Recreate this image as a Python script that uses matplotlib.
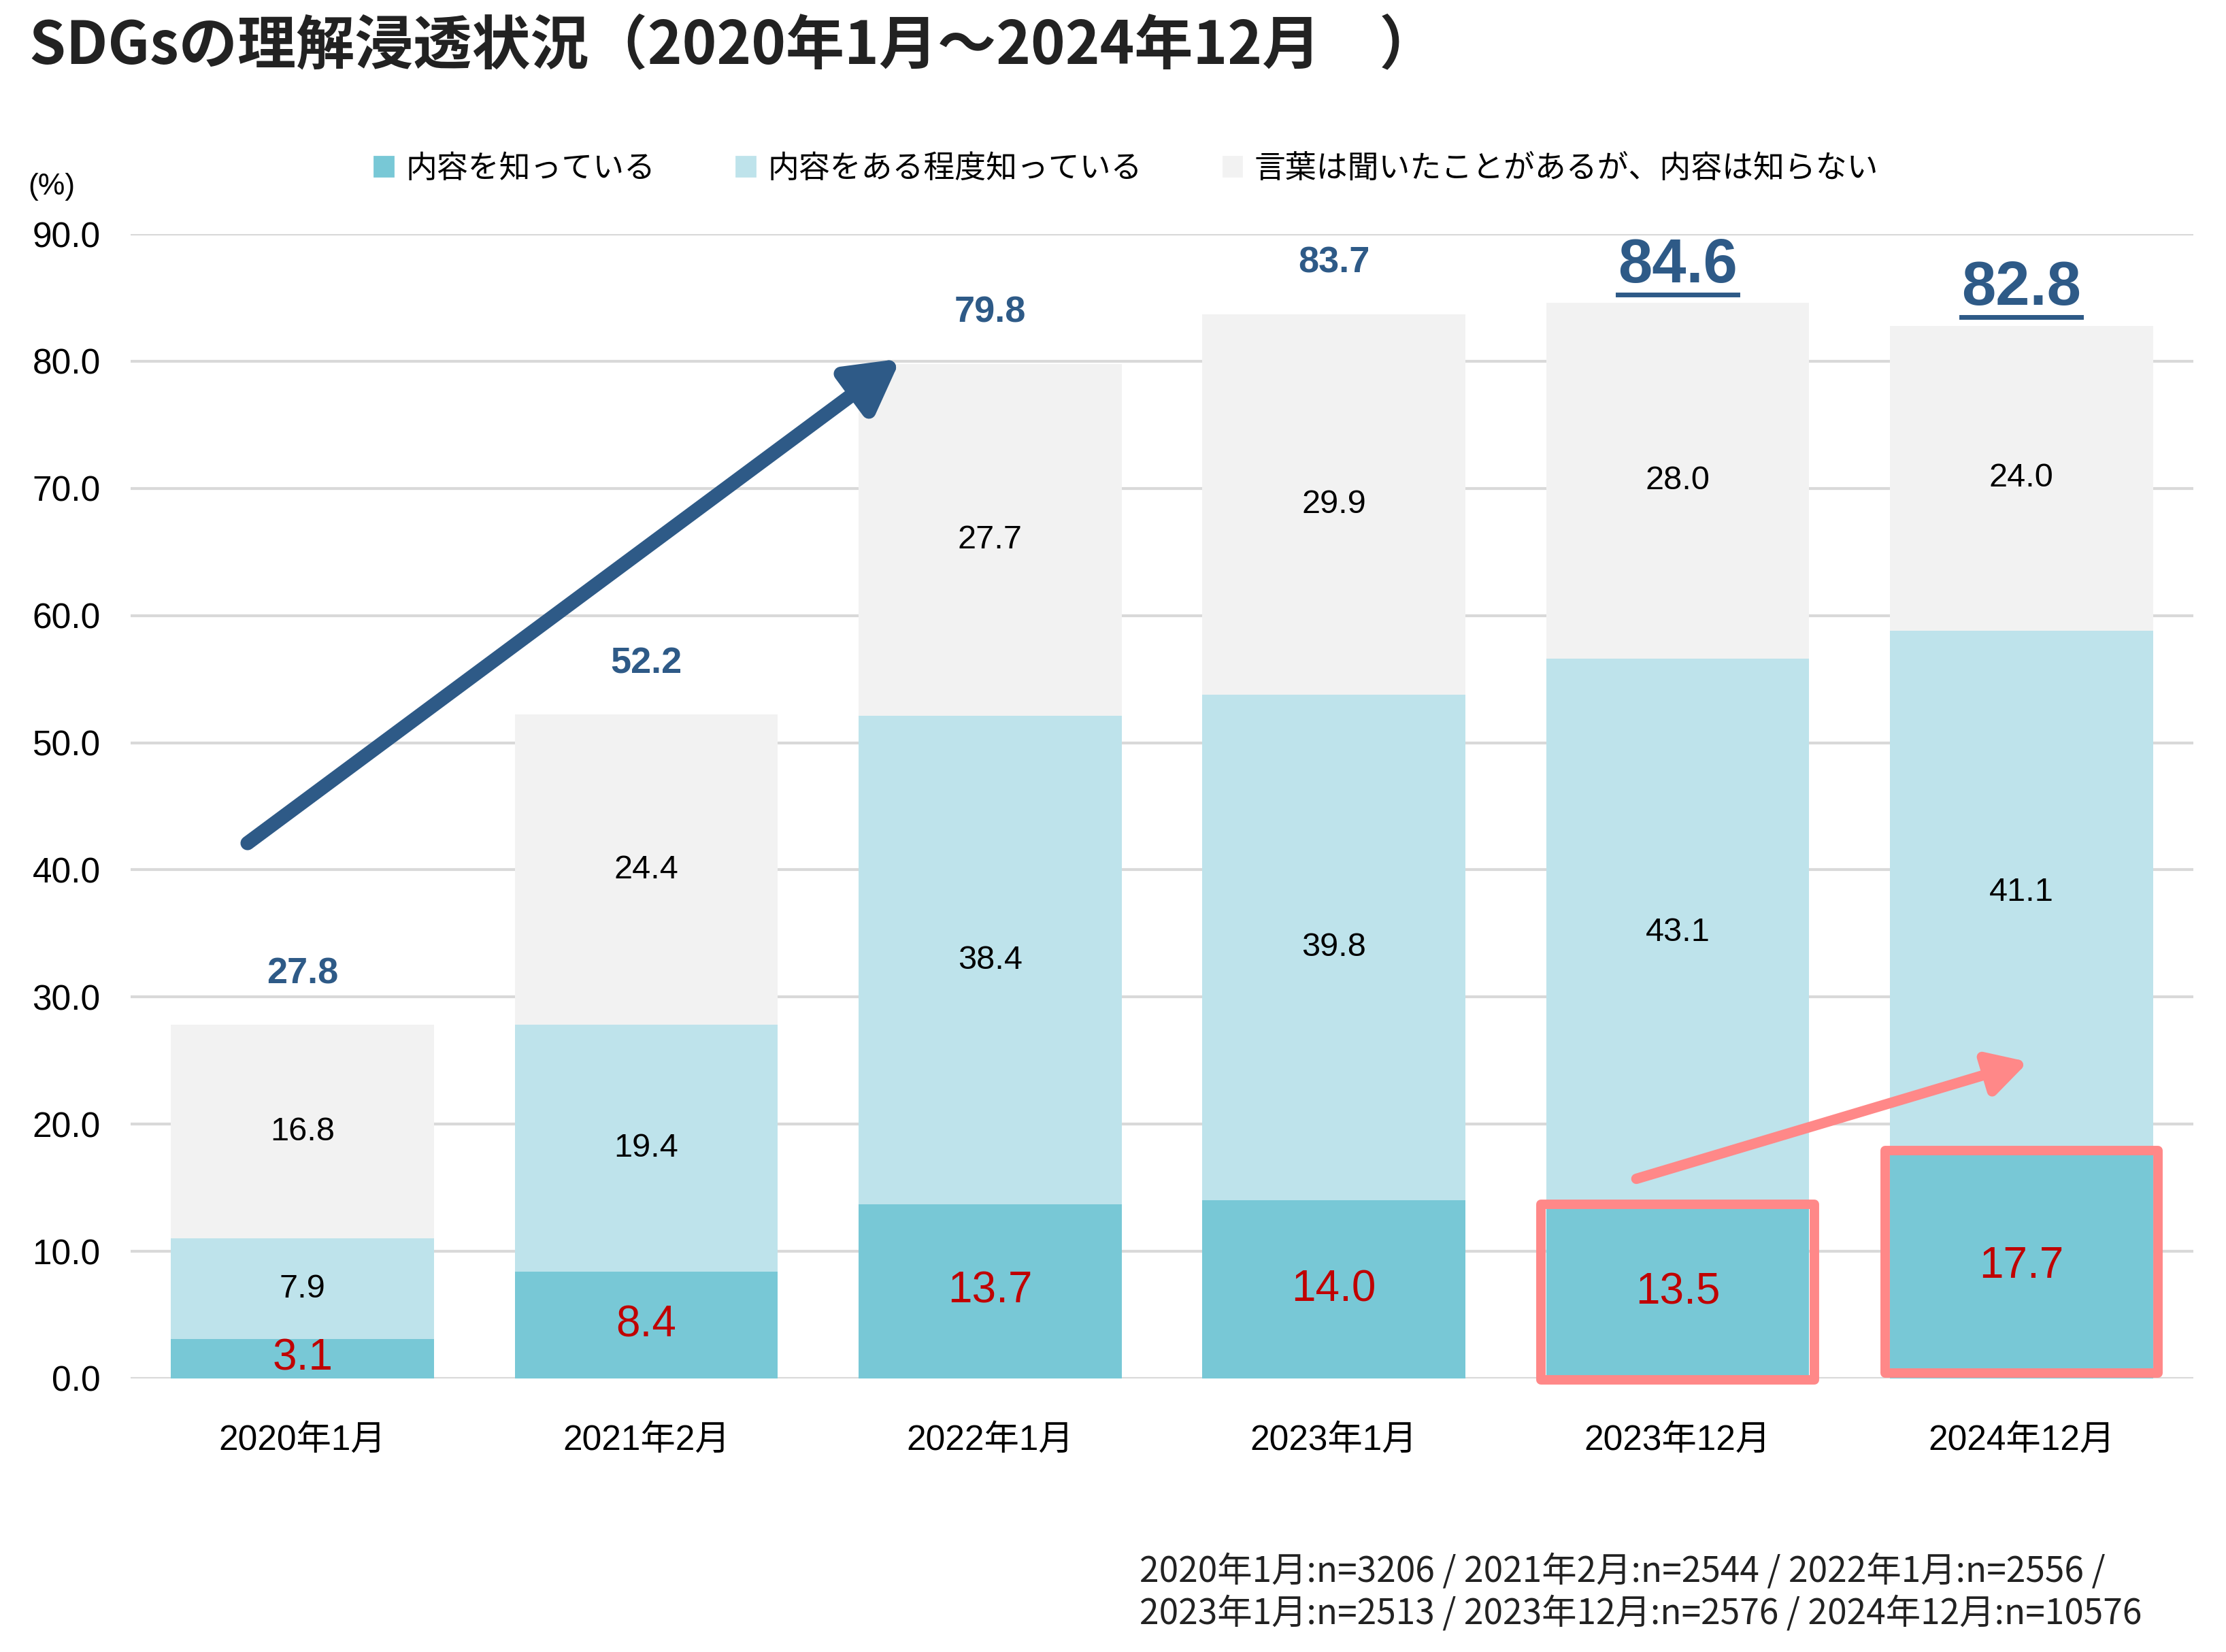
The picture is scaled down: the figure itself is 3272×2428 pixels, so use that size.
import numpy as np
import matplotlib
matplotlib.use("Agg")
import matplotlib.pyplot as plt
from matplotlib.patches import Patch, Rectangle
from matplotlib.lines import Line2D

plt.rcParams['font.family'] = ['Liberation Sans', 'Noto Sans CJK JP']

# data
periods = ["2020年1月", "2021年2月", "2022年1月", "2023年1月", "2023年12月", "2024年12月"]
know = [3.1, 8.4, 13.7, 14.0, 13.5, 17.7]
somewhat = [7.9, 19.4, 38.4, 39.8, 43.1, 41.1]
heard = [16.8, 24.4, 27.7, 29.9, 28.0, 24.0]
totals = [27.8, 52.2, 79.8, 83.7, 84.6, 82.8]
series_names = ["内容を知っている", "内容をある程度知っている", "言葉は聞いたことがあるが、内容は知らない"]
yticks = [0, 10, 20, 30, 40, 50, 60, 70, 80, 90]
footnote = ("2020年1月:n=3206 / 2021年2月:n=2544 / 2022年1月:n=2556 /\n"
            "2023年1月:n=2513 / 2023年12月:n=2576 / 2024年12月:n=10576")

c_know = "#78C8D6"
c_some = "#BEE3EB"
c_heard = "#F2F2F2"
c_total = "#2E5A87"
c_red = "#C00000"
c_pink = "#FF8888"

fig = plt.figure(figsize=(16.36, 12.14), dpi=200)
ax = fig.add_axes([0.0587, 0.1656, 0.9266, 0.6927])

x = np.arange(len(periods))
w = 0.765
ax.bar(x, know, w, color=c_know, zorder=2)
ax.bar(x, somewhat, w, bottom=know, color=c_some, zorder=2)
bottom3 = np.array(know) + np.array(somewhat)
ax.bar(x, heard, w, bottom=bottom3, color=c_heard, zorder=2)

# segment labels
for i in range(len(x)):
    ax.text(x[i], know[i] / 2, f"{know[i]:.1f}", ha='center', va='center',
            fontsize=23, color=c_red, zorder=5)
    ax.text(x[i], know[i] + somewhat[i] / 2, f"{somewhat[i]:.1f}", ha='center', va='center',
            fontsize=17.5, color='black', zorder=5)
    ax.text(x[i], bottom3[i] + heard[i] / 2, f"{heard[i]:.1f}", ha='center', va='center',
            fontsize=17.5, color='black', zorder=5)

# totals on top, last two big and underlined
big_texts = []
for i in range(len(x)):
    if i >= 4:
        t = ax.annotate(f"{totals[i]:.1f}", (x[i], totals[i]), xytext=(0, 4),
                        textcoords='offset points', ha='center', va='bottom',
                        fontsize=32.5, fontweight='bold', color=c_total,
                        annotation_clip=False)
        big_texts.append(t)
    else:
        ax.annotate(f"{totals[i]:.1f}", (x[i], totals[i]), xytext=(0, 18),
                    textcoords='offset points', ha='center', va='bottom',
                    fontsize=19.5, fontweight='bold', color=c_total,
                    annotation_clip=False)

# arrows
ax.annotate('', xy=(1.74, 80.2), xytext=(-0.16, 42.1),
            arrowprops=dict(arrowstyle='-|>,head_length=0.45,head_width=0.25',
                            lw=7.5, color=c_total, mutation_scale=50,
                            shrinkA=0, shrinkB=0), zorder=6)
ax.annotate('', xy=(5.02, 24.9), xytext=(3.88, 15.7),
            arrowprops=dict(arrowstyle='-|>,head_length=0.45,head_width=0.25',
                            lw=5.5, color=c_pink, mutation_scale=38,
                            shrinkA=0, shrinkB=0), zorder=6)

# highlight boxes
for xi, y0, y1 in [(4, -0.1, 13.7), (5, 0.4, 17.9)]:
    ax.add_patch(Rectangle((xi - 0.397, y0), 0.794, y1 - y0, fill=False,
                           edgecolor=c_pink, lw=5, joinstyle='round',
                           zorder=4, clip_on=False))

ax.set_xlim(-0.5, 5.5)
ax.set_ylim(0, 90)
ax.set_yticks(yticks)
ax.set_yticklabels([f"{v:.1f}" for v in yticks], fontsize=18.5)
ax.set_xticks(x)
ax.set_xticklabels(periods, fontsize=18.5)
ax.tick_params(axis='both', length=0)
ax.tick_params(axis='x', pad=24)
ax.tick_params(axis='y', pad=16)
ax.grid(axis='y', color='#D9D9D9', lw=1.5, zorder=0)
for s in ax.spines.values():
    s.set_visible(False)

fig.text(0.0125, 0.887, "(%)", fontsize=16, ha='left', va='center')

fig.text(0.013, 0.972, "SDGsの理解浸透状況（2020年1月～2024年12月　）",
         fontsize=31, fontweight='bold', color='#222222', ha='left', va='center',
         family=['Noto Sans CJK JP'])

handles = [Patch(color=c) for c in (c_know, c_some, c_heard)]
fig.legend(handles, series_names, loc='center', bbox_to_anchor=(0.506, 0.898), ncol=3,
           frameon=False, handlelength=0.6, handleheight=0.6, handletextpad=0.4,
           columnspacing=2.6, prop={'family': 'Noto Sans CJK JP', 'size': 16.5})

fig.text(0.512, 0.036, footnote, fontsize=18.5, ha='left', va='center', linespacing=1.2,
         color='#222222', family=['Noto Sans CJK JP'])

# underline the big totals
fig.canvas.draw()
r = fig.canvas.get_renderer()
for t in big_texts:
    bb = t.get_window_extent(r)
    y = bb.y0 + 1
    fig.add_artist(Line2D([bb.x0 / fig.bbox.width, bb.x1 / fig.bbox.width],
                          [y / fig.bbox.height, y / fig.bbox.height],
                          color=c_total, lw=2.5))

fig.savefig("out.png", dpi=200)
